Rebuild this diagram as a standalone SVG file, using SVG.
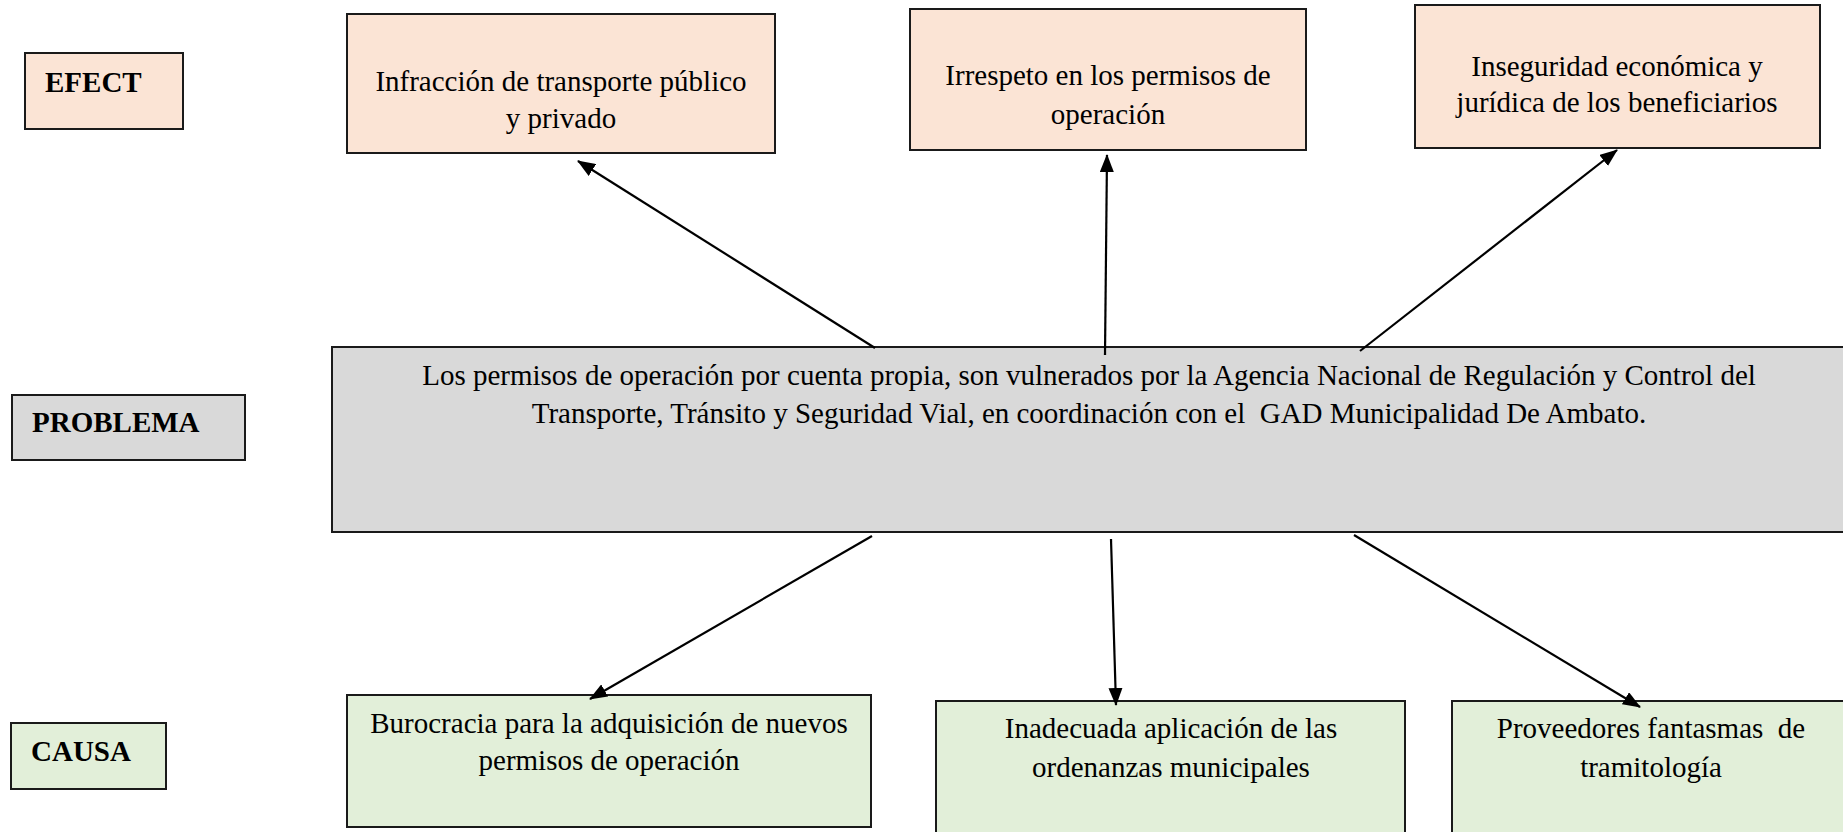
<svg xmlns="http://www.w3.org/2000/svg" width="1843" height="832" viewBox="0 0 1843 832">
<style>
  .box { stroke: #1a1a1a; stroke-width: 2; }
  .efx { fill: #FBE4D5; }
  .prb { fill: #D9D9D9; }
  .cau { fill: #E2EFD9; }
  .t { font-family: "Liberation Serif", "Times New Roman", serif; font-size: 29px; fill: #000; text-anchor: middle; white-space: pre; }
  .lbl { font-family: "Liberation Serif", "Times New Roman", serif; font-size: 29px; font-weight: bold; fill: #000; }
  .conn { stroke: #000; stroke-width: 2.2; fill: none; marker-end: url(#arr); }
</style>
<defs>
  <marker id="arr" markerUnits="userSpaceOnUse" markerWidth="18" markerHeight="14" refX="17" refY="7" orient="auto">
    <path d="M0,0 L18,7 L0,14 z" fill="#000"/>
  </marker>
</defs>
<rect width="1843" height="832" fill="#fff"/>

<g id="label-efect">
  <rect class="box efx" x="25" y="53" width="158" height="76"/>
  <text class="lbl" x="45" y="92">EFECT</text>
</g>
<g id="label-problema">
  <rect class="box prb" x="12" y="395" width="233" height="65"/>
  <text class="lbl" x="32" y="432">PROBLEMA</text>
</g>
<g id="label-causa">
  <rect class="box cau" x="11" y="723" width="155" height="66"/>
  <text class="lbl" x="31" y="761">CAUSA</text>
</g>

<g id="effect1">
  <rect class="box efx" x="347" y="14" width="428" height="139"/>
  <text class="t" x="561" y="91">Infracción de transporte público</text>
  <text class="t" x="561" y="128">y privado</text>
</g>
<g id="effect2">
  <rect class="box efx" x="910" y="9" width="396" height="141"/>
  <text class="t" x="1108" y="85">Irrespeto en los permisos de</text>
  <text class="t" x="1108" y="124">operación</text>
</g>
<g id="effect3">
  <rect class="box efx" x="1415" y="5" width="405" height="143"/>
  <text class="t" x="1617" y="76">Inseguridad económica y</text>
  <text class="t" x="1617" y="112">jurídica de los beneficiarios</text>
</g>

<g id="problem">
  <rect class="box prb" x="332" y="347" width="1520" height="185"/>
  <text class="t" x="1089" y="385">Los permisos de operación por cuenta propia, son vulnerados por la Agencia Nacional de Regulación y Control del</text>
  <text class="t" x="1089" y="423" xml:space="preserve">Transporte, Tránsito y Seguridad Vial, en coordinación con el  GAD Municipalidad De Ambato.</text>
</g>

<g id="cause1">
  <rect class="box cau" x="347" y="695" width="524" height="132"/>
  <text class="t" x="609" y="733">Burocracia para la adquisición de nuevos</text>
  <text class="t" x="609" y="770">permisos de operación</text>
</g>
<g id="cause2">
  <rect class="box cau" x="936" y="701" width="469" height="140"/>
  <text class="t" x="1171" y="738">Inadecuada aplicación de las</text>
  <text class="t" x="1171" y="777">ordenanzas municipales</text>
</g>
<g id="cause3">
  <rect class="box cau" x="1452" y="701" width="400" height="140"/>
  <text class="t" x="1651" y="738" xml:space="preserve">Proveedores fantasmas  de</text>
  <text class="t" x="1651" y="777">tramitología</text>
</g>

<g id="connectors">
  <line class="conn" x1="875" y1="348" x2="578" y2="161"/>
  <line class="conn" x1="1105" y1="355" x2="1107" y2="155"/>
  <line class="conn" x1="1360" y1="351" x2="1617" y2="150"/>
  <line class="conn" x1="872" y1="536" x2="590" y2="699"/>
  <line class="conn" x1="1111" y1="539" x2="1116" y2="705"/>
  <line class="conn" x1="1354" y1="535" x2="1640" y2="707"/>
</g>
</svg>
